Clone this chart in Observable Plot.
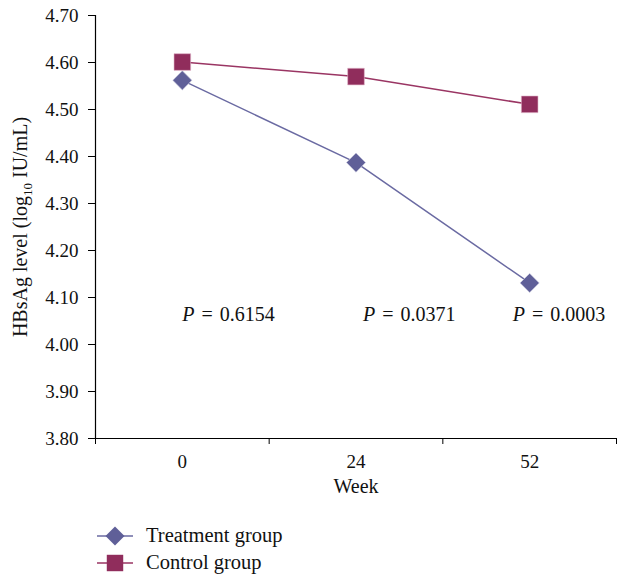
<!DOCTYPE html>
<html>
<head>
<meta charset="utf-8">
<script src="https://cdn.jsdelivr.net/npm/d3@7"></script>
<script src="https://cdn.jsdelivr.net/npm/@observablehq/plot@0.6"></script>
<style>
  html, body { margin: 0; padding: 0; background: #fff; }
  body { width: 617px; height: 575px; overflow: hidden; font-family: "Liberation Serif", "DejaVu Serif", serif; }
  #legend { position: relative; height: 65px; }
  .row { display: flex; align-items: center; height: 27px; padding-left: 97px; font-size: 20.5px; color: #111; }
  .row svg { margin-right: 13px; }
</style>
</head>
<body>
<div id="chart"></div>
<div id="legend"></div>
<script>
const weeks = ["0", "24", "52"];
const treatment = [4.562, 4.387, 4.131];
const control = [4.601, 4.570, 4.511];
const pValues = ["0.6154", "0.0371", "0.0003"];
const yTicks = [3.8, 3.9, 4.0, 4.1, 4.2, 4.3, 4.4, 4.5, 4.6, 4.7];
const seriesNames = ["Treatment group", "Control group"];
const yLabel = "HBsAg level (log10 IU/mL)";

const colT = "#5f5f98", colTLine = "#6a6aa2";
const colC = "#902d5c", colCLine = "#9a3563";
const font = '"Liberation Serif", "DejaVu Serif", serif';

const tData = weeks.map((w, i) => ({i: i + 0.5, v: treatment[i]}));
const cData = weeks.map((w, i) => ({i: i + 0.5, v: control[i]}));
const pOffsets = [0, 7, -17];

const chart = Plot.plot({
  width: 617,
  height: 510,
  marginLeft: 95,
  marginRight: 1,
  marginTop: 15,
  marginBottom: 72,
  style: {fontFamily: font, fontSize: "18px", color: "#111", background: "#fff"},
  x: {domain: [0, weeks.length], axis: null},
  y: {domain: [3.8, 4.7], axis: null},
  marks: [
    Plot.axisY({ticks: yTicks, tickFormat: d3.format(".2f"), tickSize: 7, tickPadding: 10, stroke: "#000", fontSize: 19, label: null}),
    Plot.axisX({ticks: d3.range(weeks.length + 1), tickFormat: () => "", tickSize: 6, stroke: "#000", label: null}),
    Plot.axisX({ticks: weeks.map((w, i) => i + 0.5), tickFormat: d => weeks[Math.round(d - 0.5)], tickSize: 0, tickPadding: 16, fontSize: 19, label: null}),
    Plot.ruleX([0], {stroke: "#000", strokeWidth: 1.2}),
    Plot.ruleY([3.8], {stroke: "#000", strokeWidth: 1.2}),
    Plot.line(tData, {x: "i", y: "v", stroke: colTLine, strokeWidth: 1.5}),
    Plot.line(cData, {x: "i", y: "v", stroke: colCLine, strokeWidth: 1.5}),
    Plot.dot(tData, {x: "i", y: "v", symbol: "diamond2", r: 8.6, fill: colT, stroke: "#c9c9dd", strokeWidth: 0.6}),
    Plot.dot(cData, {x: "i", y: "v", symbol: "square", r: 9.4, fill: colC, stroke: "#e3b8cb", strokeWidth: 0.6}),
    ...pValues.map((p, i) => Plot.text([p], {x: i + 0.5, y: 4.064, text: d => d, textAnchor: "start", dx: pOffsets[i], fontSize: 20, fill: "#111"})),
    Plot.text(["Week"], {frameAnchor: "bottom", dy: 54, fontSize: 20, fill: "#111"}),
    Plot.text([yLabel], {frameAnchor: "left", textAnchor: "middle", dx: -75, rotate: -90, fontSize: 20, fill: "#111"})
  ]
});
document.getElementById("chart").appendChild(chart);

d3.select(chart).selectAll("text").each(function() {
  const t = d3.select(this);
  const content = t.text();
  if (pValues.includes(content)) {
    t.text("");
    t.append("tspan").attr("font-style", "italic").text("P");
    t.append("tspan").attr("dx", 7).text("=");
    t.append("tspan").attr("dx", 7).text(content);
  } else if (content === yLabel) {
    t.text("");
    t.append("tspan").text("HBsAg level (log");
    t.append("tspan").attr("font-size", 13).attr("dy", 5).text("10");
    t.append("tspan").attr("dy", -5).text(" IU/mL)");
  }
});

// legend
const legend = d3.select("#legend").style("padding-top", "12px");
seriesNames.forEach((name, k) => {
  const row = legend.append("div").attr("class", "row");
  const s = row.append("svg").attr("width", 36).attr("height", 22);
  s.append("line").attr("x1", 0).attr("x2", 36).attr("y1", 11).attr("y2", 11)
    .attr("stroke", k === 0 ? colTLine : colCLine).attr("stroke-width", 1.5);
  if (k === 0) {
    s.append("path").attr("d", d3.symbol(d3.symbolDiamond2, 230)()).attr("transform", "translate(18,11)").attr("fill", colT);
  } else {
    s.append("path").attr("d", d3.symbol(d3.symbolSquare, 270)()).attr("transform", "translate(18,11)").attr("fill", colC);
  }
  row.append("span").text(name);
});
</script>
</body>
</html>
